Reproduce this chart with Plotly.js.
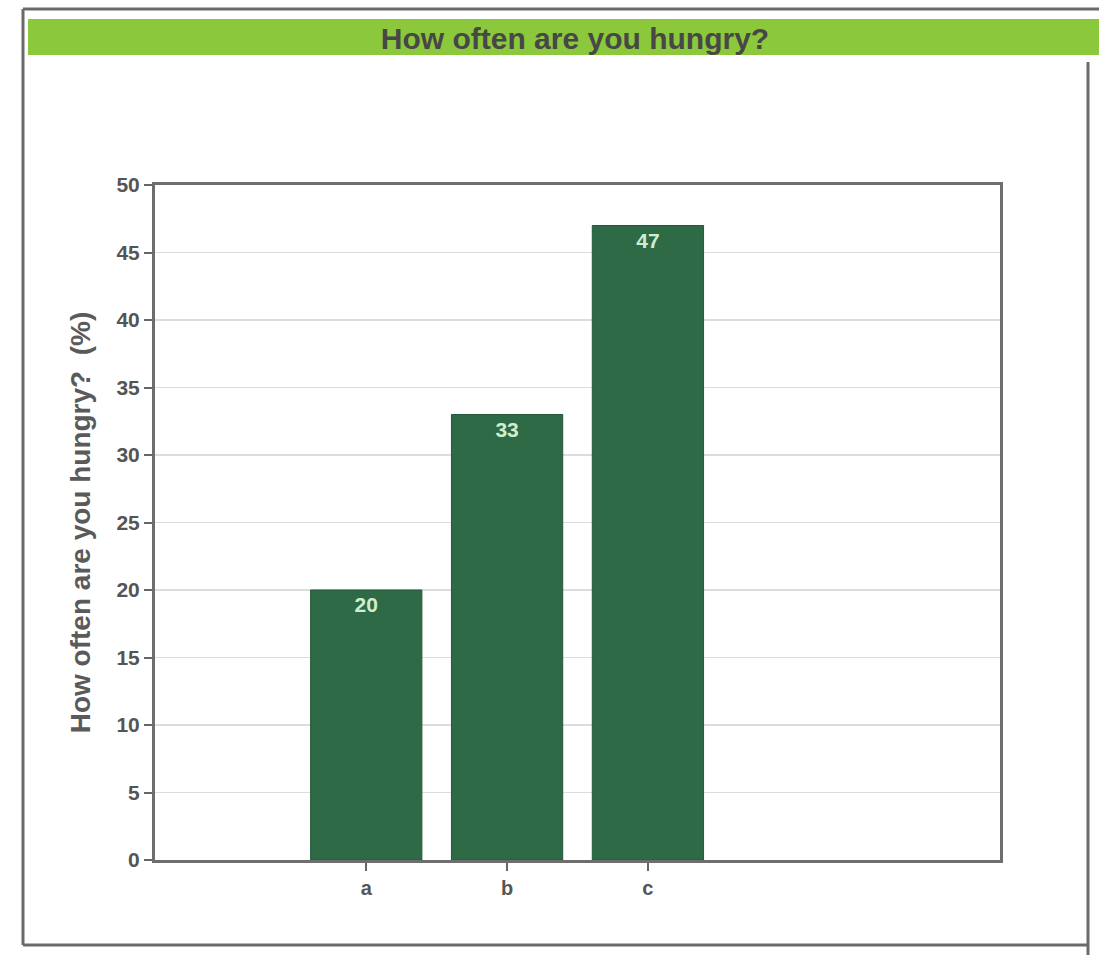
<!DOCTYPE html>
<html>
<head>
<meta charset="utf-8">
<script src="https://cdn.plot.ly/plotly-3.0.1.min.js"></script>
<style>html,body{margin:0;padding:0;background:#fff;}#chart{width:1099px;height:955px;}</style>
</head>
<body>
<div id="chart"></div>
<script>
var categories = ["a", "b", "c"];
var values = [20, 33, 47];
var valueLabels = ["20", "33", "47"];
var yTickValues = [0, 5, 10, 15, 20, 25, 30, 35, 40, 45, 50];

var L = 155, R = 1000, T = 185, B = 860;
function px(x){ return (x - L) / (R - L); }
function py(y){ return (B - y) / (B - T); }

var trace = {
  type: "bar",
  x: categories,
  y: values,
  text: valueLabels,
  textposition: "inside",
  insidetextanchor: "end",
  textangle: 0,
  textfont: {family: "Liberation Sans, Arial, sans-serif", size: 21, color: "#cfeecf", weight: "bold"},
  marker: {color: "#2d6a45", line: {color: "#24583a", width: 1}},
  width: 0.79,
  hoverinfo: "none"
};

var layout = {
  width: 1099, height: 955,
  margin: {l: L, r: 1099 - R, t: T, b: 955 - B},
  paper_bgcolor: "#ffffff",
  plot_bgcolor: "#ffffff",
  showlegend: false,
  font: {family: "Liberation Sans, Arial, sans-serif", color: "#555"},
  title: {
    text: "<b>How often are you hungry?</b>",
    font: {family: "Liberation Sans, Arial, sans-serif", size: 30, color: "#474747"},
    x: 575 / 1099, xref: "container", xanchor: "center",
    y: 1 - 38 / 955, yref: "container", yanchor: "middle"
  },
  xaxis: {
    type: "category",
    range: [-1.5, 4.5],
    showgrid: false,
    ticks: "outside", ticklen: 8, tickwidth: 2, tickcolor: "#666",
    tickfont: {size: 20, color: "#555", weight: "bold"},
    showline: true, linecolor: "#6e6e6e", linewidth: 3, mirror: true,
    zeroline: false
  },
  yaxis: {
    range: [0, 50],
    tickvals: yTickValues,
    ticks: "outside", ticklen: 8, tickwidth: 2, tickcolor: "#666",
    tickfont: {size: 21, color: "#555", weight: "bold"},
    showgrid: true, gridcolor: "#dcdcdc", gridwidth: 1.5,
    showline: true, linecolor: "#6e6e6e", linewidth: 3, mirror: true,
    zeroline: false,
    title: {
      text: "<b>How often are you hungry?  (%)</b>",
      font: {size: 28, color: "#5a5a5a"},
      standoff: 18
    }
  },
  shapes: [
    {type: "rect", xref: "paper", yref: "paper", layer: "below",
     x0: px(28), x1: px(1099), y0: py(55), y1: py(19),
     fillcolor: "#8cc83c", line: {width: 0}},
    {type: "line", xref: "paper", yref: "paper",
     x0: px(23), x1: px(1099), y0: py(9), y1: py(9),
     line: {color: "#6a6a6a", width: 3}},
    {type: "line", xref: "paper", yref: "paper",
     x0: px(23), x1: px(23), y0: py(9), y1: py(945),
     line: {color: "#6a6a6a", width: 3}},
    {type: "line", xref: "paper", yref: "paper",
     x0: px(23), x1: px(1088), y0: py(945), y1: py(945),
     line: {color: "#6a6a6a", width: 3}},
    {type: "line", xref: "paper", yref: "paper",
     x0: px(1088), x1: px(1088), y0: py(62), y1: py(955),
     line: {color: "#6a6a6a", width: 3}}
  ]
};

Plotly.newPlot("chart", [trace], layout, {displayModeBar: false, staticPlot: true});
</script>
</body>
</html>
